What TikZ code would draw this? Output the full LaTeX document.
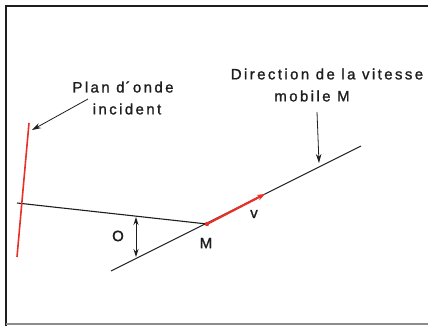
\documentclass[tikz,border=0pt]{standalone}
\usepackage{fontspec}
\setmainfont{Liberation Sans}[LetterSpace=16, FakeBold=1.2]
\usetikzlibrary{arrows.meta}
\definecolor{redline}{RGB}{232,48,40}
\definecolor{ink}{RGB}{30,30,30}
\tikzset{
  lbl/.style={font=\fontsize{15}{22}\selectfont, text=ink, inner sep=0pt, align=center},
  thin/.style={draw=ink, line width=1.1pt},
  pointer/.style={draw=ink, line width=0.8pt, -{Stealth[length=9pt,width=5.5pt]}},
}
\begin{document}
\begin{tikzpicture}[x=1pt,y=-1pt]
\useasboundingbox (0,0) rectangle (428,326);
\fill[white] (0,0) rectangle (428,326);
% frame
\draw[ink, line width=2pt] (6,326) -- (6,6);
\draw[ink, line width=1.5pt] (5,6) -- (428,6);
\draw[black!45, line width=1.2pt] (6,324) -- (428,324);
% geometry
\coordinate (wt) at (29,123);
\coordinate (wb) at (17,257);
\coordinate (hl) at (17,203);
\coordinate (M) at (207,224);
\coordinate (ls) at (111,271);
\coordinate (le) at (361,146);
\coordinate (vt) at (265,194);
\draw[thin] (hl) -- (M);
\draw[thin] (ls) -- (le);
\draw[redline, line width=1.6pt] (wt) -- (wb);
\draw[redline, line width=2.2pt, -{Stealth[length=8pt,width=6pt]}] (M) -- (vt);
\fill[redline] (M) circle (2.2pt);
% angle arrow
\coordinate (at) at (136,217);
\coordinate (ab) at (136,257);
\draw[ink, line width=0.9pt, {Stealth[length=8pt,width=5pt]}-{Stealth[length=8pt,width=5pt]}] (at) -- (ab);
% labels
\node[lbl] (o) at (118,236) {O};
\node[lbl] (m) at (206,243) {M};
\node[lbl] (v) at (254,214) {v};
\node[lbl] (plan) at (123,87) {Plan d\kern1pt\textasciiacute onde};
\node[lbl] (plan2) at (127,109) {incident};
\node[lbl] (dir) at (327,74) {Direction de la vitesse};
\node[lbl] (dir2) at (312,96) {mobile M};
% pointers
\coordinate (p1) at (88,99);
\coordinate (p1e) at (32,130);
\draw[pointer] (p1) -- (p1e);
\coordinate (p2) at (317,112);
\coordinate (p2e) at (319,163);
\draw[pointer] (p2) -- (p2e);
\end{tikzpicture}
\end{document}
